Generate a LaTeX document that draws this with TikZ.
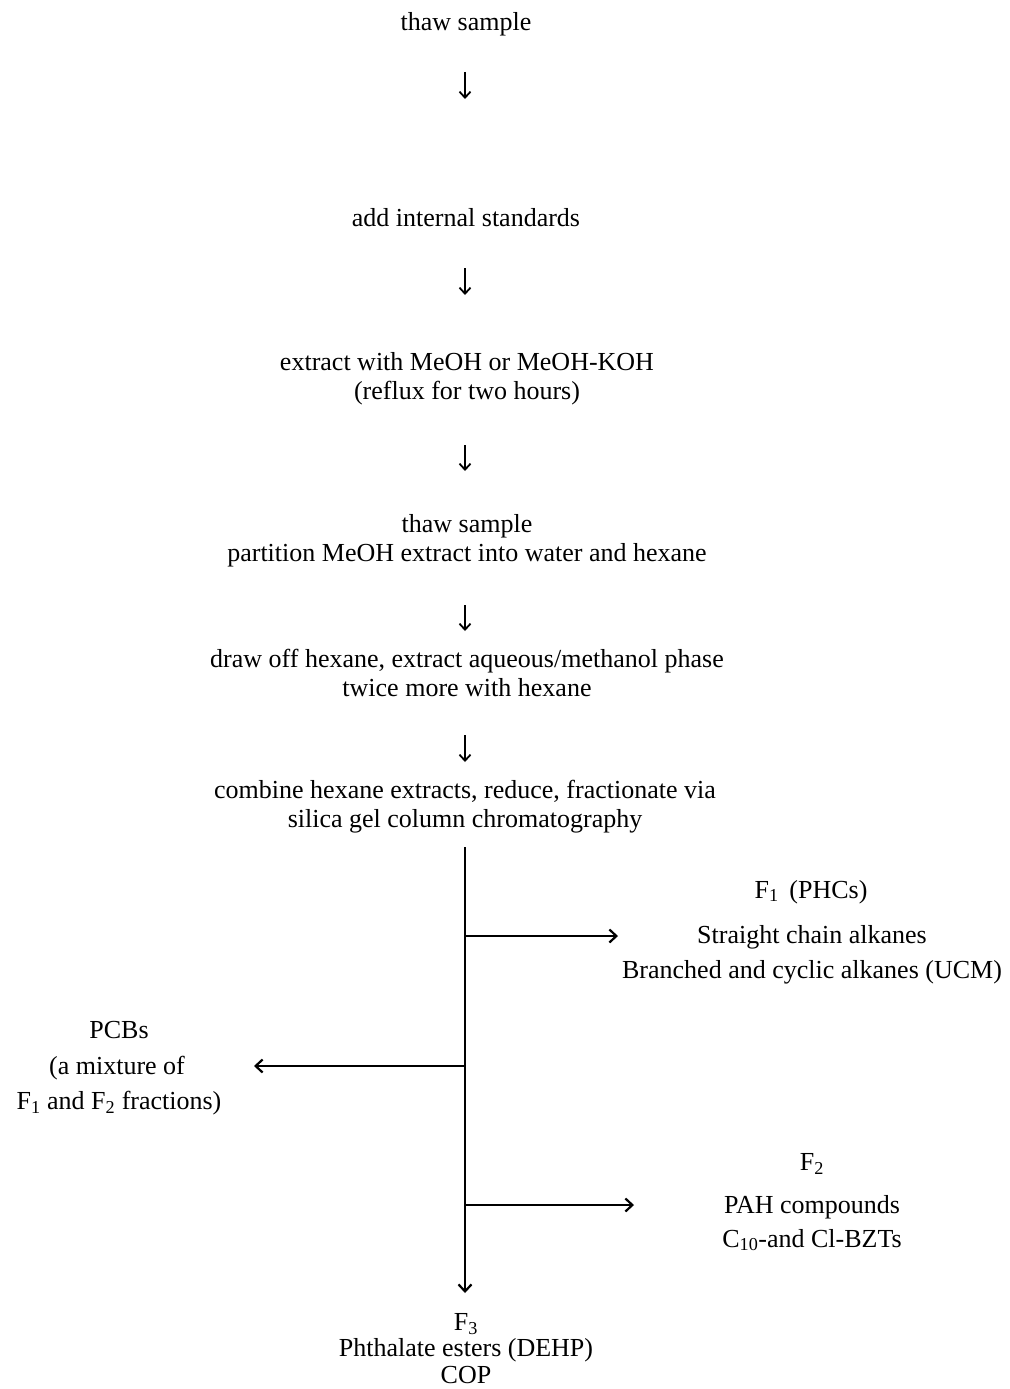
\documentclass[tikz,border=0pt]{standalone}
\usepackage{fontspec}
\setmainfont{Liberation Serif}
\usetikzlibrary{arrows.meta}
\begin{document}
\begin{tikzpicture}[x=1pt,y=-1pt,
 txt/.style={align=center,inner sep=0pt,font=\fontsize{26}{29}\selectfont},
 arr/.style={line width=2.2pt,-{Straight Barb[length=7pt,width=13pt]}},
 sarr/.style={line width=1.8pt,-{Straight Barb[length=6pt,width=11pt]}}]
\useasboundingbox (0,0) rectangle (1009,1389);
% main steps
\node[txt] (t1) at (466,24) {thaw sample};
\node[txt] (t2) at (466,218) {add internal standards};
\node[txt] (t3) at (467,378.5) {extract with MeOH or MeOH-KOH\\(reflux for two hours)};
\node[txt] (t4) at (467,540.5) {thaw sample\\partition MeOH extract into water and hexane};
\node[txt] (t5) at (467,672.5) {draw off hexane, extract aqueous/methanol phase\\twice more with hexane};
\node[txt] (t6) at (465,806.5) {combine hexane extracts, reduce, fractionate via\\silica gel column chromatography};
% short arrows
\coordinate (a1s) at (465,72);  \coordinate (a1e) at (465,99);
\coordinate (a2s) at (465,268); \coordinate (a2e) at (465,295);
\coordinate (a3s) at (465,445); \coordinate (a3e) at (465,471);
\coordinate (a4s) at (465,605); \coordinate (a4e) at (465,631);
\coordinate (a5s) at (465,735); \coordinate (a5e) at (465,762);
\draw[sarr] (a1s) -- (a1e);
\draw[sarr] (a2s) -- (a2e);
\draw[sarr] (a3s) -- (a3e);
\draw[sarr] (a4s) -- (a4e);
\draw[sarr] (a5s) -- (a5e);
% fractionation trunk
\coordinate (vtop) at (465,847);
\coordinate (j1) at (465,936);
\coordinate (j2) at (465,1066);
\coordinate (j3) at (465,1205);
\coordinate (vbot) at (465,1293);
\coordinate (e1) at (618,936);
\coordinate (e2) at (254,1066);
\coordinate (e3) at (634,1205);
\draw[arr] (vtop) -- (vbot);
\draw[arr] (j1) -- (e1);
\draw[arr] (j2) -- (e2);
\draw[arr] (j3) -- (e3);
% F1
\node[txt] (f1a) at (811,892) {F\textsubscript{1}\, (PHCs)};
\node[txt] (f1b) at (812,937) {Straight chain alkanes};
\node[txt] (f1c) at (812,972) {Branched and cyclic alkanes (UCM)};
% PCBs
\node[txt] (p1) at (119,1030) {PCBs};
\node[txt] (p2) at (117,1068) {(a mixture of};
\node[txt] (p3) at (119,1103) {F\textsubscript{1} and F\textsubscript{2} fractions)};
% F2
\node[txt] (f2a) at (812,1164) {F\textsubscript{2}};
\node[txt] (f2b) at (812,1207) {PAH compounds};
\node[txt] (f2c) at (812,1240) {C\textsubscript{10}-and Cl-BZTs};
% F3
\node[txt] (f3a) at (466,1324) {F\textsubscript{3}};
\node[txt] (f3b) at (466,1350) {Phthalate esters (DEHP)};
\node[txt] (f3c) at (466,1375) {COP};
\end{tikzpicture}
\end{document}
